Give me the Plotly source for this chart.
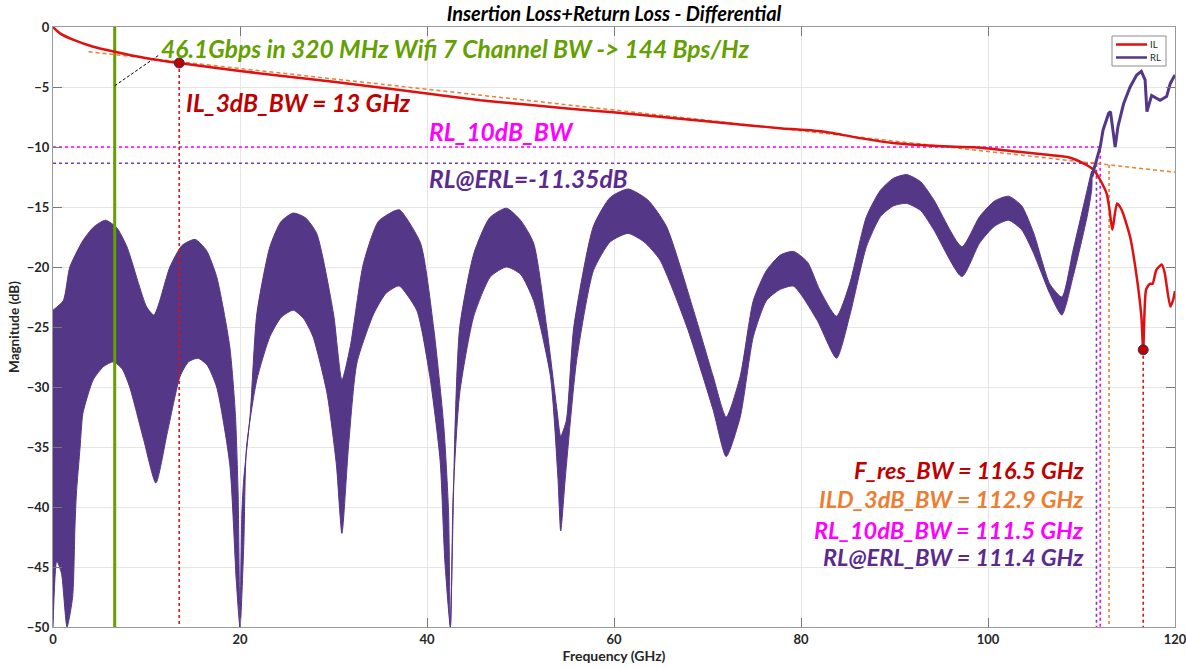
import plotly.graph_objects as go

# ---------------- data ----------------
il_f = [0, 0.75, 2.2, 4.3, 6.6, 10, 13.5, 20, 30, 37.1, 40, 45.7, 50, 55, 59.9, 66.5, 74.5, 78,
        82.5, 86.5, 90.1, 94, 98.6, 102.6, 106.6, 108.6, 110.2, 111.3, 112, 112.7, 113, 113.3,
        113.8, 114.3, 115.2, 115.9, 116.4, 116.6, 116.9, 117.3, 117.6, 118, 118.6, 118.9, 119.5,
        119.8, 120]
il_db = [0, -0.53, -1.08, -1.64, -2.06, -2.6, -3.0, -3.67, -4.56, -5.25, -5.55, -6.1, -6.42, -6.8,
         -7.1, -7.6, -8.2, -8.45, -8.72, -9.28, -9.69, -9.9, -10.03, -10.35, -10.67, -10.85,
         -11.36, -11.9, -12.75, -13.9, -15.25, -16.9, -14.7, -15.25, -17.5, -20.8, -24.1, -26.9,
         -21.9, -21.4, -21.4, -20.25, -19.8, -20.5, -23.3, -22.75, -22.0]

# RL: rapidly oscillating trace shown as a band (upper / lower envelopes)
rl_up_f = [0, 1.1, 1.8, 3.2, 4.3, 5.6, 6.8, 7.9, 10.0, 10.8, 12.5, 13.8, 15.2, 16.4, 17.5, 18.9,
           19.5, 19.8, 20.0, 20.2, 20.4, 21.1, 21.8, 23.2, 24.4, 25.7, 27.0, 28.2, 30.0, 30.9,
           31.8, 33.2, 34.8, 36.6, 37.1, 39.3, 40.7, 41.8, 42.3, 42.5, 42.8, 43.0, 43.5, 45.0,
           46.7, 48.5, 50.0, 51.4, 52.8, 53.9, 54.3, 54.9, 55.7, 57.8, 59.6, 61.5, 63.6, 65.6,
           68.5, 70.6, 72.0, 73.5, 74.9, 76.3, 77.8, 79.2, 80.7, 82.0, 83.8, 85.2, 87.0, 88.5,
           89.9, 91.3, 92.8, 94.2, 97.2, 99.1, 100.7, 102.2, 103.6, 104.9, 106.6, 107.9, 109.1,
           110.6, 111.1]
rl_up_db = [-23.6, -22.8, -20.0, -17.8, -16.7, -16.1, -16.7, -18.3, -23.3, -24.0, -20.0, -18.2,
            -17.7, -18.6, -20.8, -26.6, -32.2, -38.9, -50, -40.5, -37.7, -32.2, -23.9, -18.3,
            -16.2, -15.5, -15.9, -17.2, -23.9, -29.4, -26.6, -19.7, -16.2, -15.3, -15.25, -18.0,
            -25.0, -33.3, -40.3, -50, -40.3, -33.3, -25.0, -18.9, -15.9, -15.1, -16.1, -18.0,
            -25.0, -31.9, -34.1, -32.8, -25.0, -16.6, -14.2, -13.5, -14.4, -16.6, -23.6, -29.1,
            -32.5, -29.1, -22.8, -20.3, -19.0, -18.7, -19.6, -21.9, -24.1, -21.4, -15.8, -13.6,
            -12.6, -12.3, -12.9, -14.4, -18.3, -15.8, -14.5, -14.1, -14.9, -17.2, -21.4, -22.5,
            -18.6, -13.6, -12.0]
rl_lo_f = [0, 0.4, 0.9, 1.5, 2.1, 2.35, 2.5, 2.9, 3.2, 4.3, 5.4, 6.45, 7.4, 8.2, 9.7, 11.0,
           12.2, 13.6, 14.5, 15.5, 16.5, 17.5, 18.9, 19.6, 20.0, 20.4, 20.7, 21.8, 23.2, 24.4,
           25.7, 26.8, 27.8, 29.3, 30.3, 30.9, 31.6, 32.5, 34.3, 35.6, 36.8, 37.1, 38.9, 40.3,
           41.4, 41.9, 42.5, 42.8, 43.5, 45.0, 46.8, 48.5, 50.0, 51.4, 53.2, 54.0, 54.3, 54.8,
           56.0, 57.8, 59.6, 61.5, 63.2, 64.9, 67.8, 70.6, 72.0, 73.5, 74.9, 76.3, 77.7, 79.2,
           81.7, 83.8, 85.2, 87.0, 88.5, 89.9, 91.3, 92.8, 94.2, 97.2, 99.1, 100.7, 102.2, 103.6,
           104.9, 106.6, 107.9, 109.1, 110.6, 111.1]
rl_lo_db = [-50, -44.5, -45.5, -50, -47.5, -41.6, -38.9, -35.0, -32.2, -29.4, -28.3, -27.9,
            -28.5, -30.0, -34.4, -38.0, -33.9, -29.1, -27.9, -27.6, -28.2, -30.0, -36.4, -46.1,
            -50, -43.3, -35.0, -29.4, -25.8, -24.2, -23.6, -24.3, -25.8, -30.5, -36.4, -42.2,
            -35.0, -28.0, -23.9, -22.2, -21.6, -21.6, -23.6, -29.1, -36.1, -44.4, -50, -38.9,
            -30.5, -24.1, -20.8, -20.0, -20.6, -22.8, -29.1, -37.5, -42.0, -37.5, -27.8, -20.3,
            -17.9, -17.2, -17.9, -19.4, -25.0, -31.9, -35.8, -32.5, -25.8, -22.8, -21.9, -21.6,
            -24.4, -27.6, -24.1, -18.3, -15.8, -14.9, -14.7, -15.3, -16.9, -20.8, -18.0, -16.6,
            -16.1, -16.9, -18.9, -22.2, -24.0, -20.8, -15.8, -13.5]
rl_tail_f = [111.1, 112.0, 112.3, 112.9, 113.1, 113.6, 113.9, 114.5, 115.2, 115.9, 116.4, 116.8,
             117.0, 117.5, 118.4, 119.1, 119.5, 120.0]
rl_tail_db = [-12.5, -10.0, -8.6, -7.2, -7.05, -10.0, -8.3, -6.4, -5.0, -4.0, -3.7, -4.4, -7.05,
              -5.7, -6.1, -5.8, -4.7, -4.0]

# fitted IL line (end points) and markers / thresholds
fit_f = [3.8, 120]
fit_db = [-2.06, -12.1]
il3db_f, il3db_db = 13.5, -3.0
fres_f, fres_db = 116.6, -26.9
rl10_level, rl10_f = -10.0, 112.0
erl_level, erl_f = -11.35, 111.6
ild_f, ild_db = 112.95, -11.5
wifi_f = 6.6
conn_f = [6.6, 11.4]
conn_db = [-4.9, -2.3]
legend_names = ["IL", "RL"]

RED = "#e01010"
DKRED = "#c00000"
PURPLE = "#553787"
TXTPURP = "#5b2a8e"
MAGENTA = "#ff00ff"
ORANGE = "#ee7d31"
GREEN = "#63a000"
FONT = "Lato"

fig = go.Figure()

# RL band
fig.add_trace(go.Scatter(x=rl_up_f + rl_lo_f[::-1], y=rl_up_db + rl_lo_db[::-1], mode="lines",
                         fill="toself", fillcolor=PURPLE,
                         line=dict(color=PURPLE, width=1, shape="spline", smoothing=0.6),
                         showlegend=False, hoverinfo="skip"))

dot = dict(width=1.6, dash="dot")
# threshold lines
fig.add_trace(go.Scatter(x=[0, rl10_f, rl10_f], y=[rl10_level, rl10_level, -50], mode="lines",
                         line=dict(color=MAGENTA, **dot), showlegend=False))
fig.add_trace(go.Scatter(x=[0, erl_f, erl_f], y=[erl_level, erl_level, -50], mode="lines",
                         line=dict(color="#7a3db0", **dot), showlegend=False))
fig.add_trace(go.Scatter(x=fit_f, y=fit_db, mode="lines",
                         line=dict(color=ORANGE, width=1.5, dash="4px,3px"), showlegend=False))
fig.add_trace(go.Scatter(x=[ild_f, ild_f], y=[ild_db, -50], mode="lines",
                         line=dict(color=ORANGE, **dot), showlegend=False))
fig.add_trace(go.Scatter(x=[il3db_f, il3db_f], y=[il3db_db, -50], mode="lines",
                         line=dict(color=RED, **dot), showlegend=False))
fig.add_trace(go.Scatter(x=[fres_f, fres_f], y=[fres_db, -50], mode="lines",
                         line=dict(color=RED, **dot), showlegend=False))
# green wifi line and connector
fig.add_trace(go.Scatter(x=[wifi_f, wifi_f], y=[0, -50], mode="lines",
                         line=dict(color=GREEN, width=3), showlegend=False))
fig.add_trace(go.Scatter(x=conn_f, y=conn_db, mode="lines",
                         line=dict(color="black", width=1, dash="3px,2px"), showlegend=False))

# IL and RL tail
fig.add_trace(go.Scatter(x=il_f, y=il_db, mode="lines", name=legend_names[0], showlegend=False,
                         line=dict(color=RED, width=2.5, shape="spline", smoothing=0.6)))
fig.add_trace(go.Scatter(x=rl_tail_f, y=rl_tail_db, mode="lines", name=legend_names[1],
                         showlegend=False, line=dict(color=PURPLE, width=3)))

# markers
fig.add_trace(go.Scatter(x=[il3db_f, fres_f], y=[il3db_db, fres_db], mode="markers",
                         marker=dict(color=DKRED, size=10, line=dict(color="#1f3864", width=1)),
                         showlegend=False))

def txt(x, y, s, color, size=24.5, anchor="left"):
    fig.add_annotation(x=x, y=y, xref="x", yref="y", text=s, showarrow=False,
                       xanchor=anchor, yanchor="middle", borderpad=0,
                       font=dict(family=FONT, size=size, color=color, weight="bold", style="italic"))

txt(11.4, -1.75, "46.1Gbps in 320 MHz Wifi 7 Channel BW -&gt; 144 Bps/Hz", GREEN)
txt(14.1, -6.33, "IL_3dB_BW = 13 GHz", DKRED)
txt(40.1, -8.67, "RL_10dB_BW", MAGENTA)
txt(40.1, -12.6, "RL@ERL=-11.35dB", TXTPURP)
txt(110.4, -36.95, "F_res_BW = 116.5 GHz", DKRED, size=23.5, anchor="right")
txt(110.4, -39.35, "ILD_3dB_BW = 112.9 GHz", ORANGE, size=23.5, anchor="right")
txt(110.4, -41.9, "RL_10dB_BW = 111.5 GHz", MAGENTA, size=23.5, anchor="right")
txt(110.4, -44.15, "RL@ERL_BW = 111.4 GHz", TXTPURP, size=23.5, anchor="right")

# compact legend box (MATLAB style), drawn in paper coordinates
L, T = 53, 27
W, H = 1122, 600
def px_x(p):
    return (p - L) / W
def px_y(p):
    return (T + H - p) / H

fig.add_shape(type="rect", xref="paper", yref="paper", x0=px_x(1112), x1=px_x(1166),
              y0=px_y(66), y1=px_y(36), line=dict(color="#8c8c8c", width=1), fillcolor="white",
              layer="above")
for name, col, py in [(legend_names[0], RED, 44.5), (legend_names[1], PURPLE, 57.5)]:
    fig.add_shape(type="line", xref="paper", yref="paper", x0=px_x(1116), x1=px_x(1147),
                  y0=px_y(py), y1=px_y(py), line=dict(color=col, width=2.5), layer="above")
    fig.add_annotation(x=px_x(1149), y=px_y(py), xref="paper", yref="paper", text=name,
                       showarrow=False, xanchor="left", yanchor="middle", borderpad=0,
                       font=dict(family=FONT, size=9.5, color="#262626"))

axis_common = dict(showline=True, mirror="ticks", linecolor="#999999", linewidth=1,
                   ticks="inside", ticklen=9, tickcolor="#777777", automargin=False,
                   ticklabeloverflow="allow",
                   showgrid=True, gridcolor="#e6e6e6", gridwidth=1, zeroline=False,
                   tickfont=dict(family=FONT, size=13, color="#262626", weight="bold"))

fig.update_layout(
    width=1186, height=668,
    margin=dict(l=53, r=11, t=27, b=41),
    paper_bgcolor="white", plot_bgcolor="white",
    title=dict(text="Insertion Loss+Return Loss - Differential", x=0.5, xref="paper",
               y=1 - 14 / 668, yanchor="middle",
               font=dict(family=FONT, size=20, color="black", weight="bold", style="italic")),
    xaxis=dict(range=[0, 120], dtick=20, title=dict(text="Frequency (GHz)", standoff=2,
               font=dict(family=FONT, size=14, color="#262626", weight="bold")), **axis_common),
    yaxis=dict(range=[-50, 0], dtick=5, title=dict(text="Magnitude (dB)", standoff=4,
               font=dict(family=FONT, size=13.5, color="#262626", weight="bold")), **axis_common),
    showlegend=False,
)

fig.write_html("out.html")
